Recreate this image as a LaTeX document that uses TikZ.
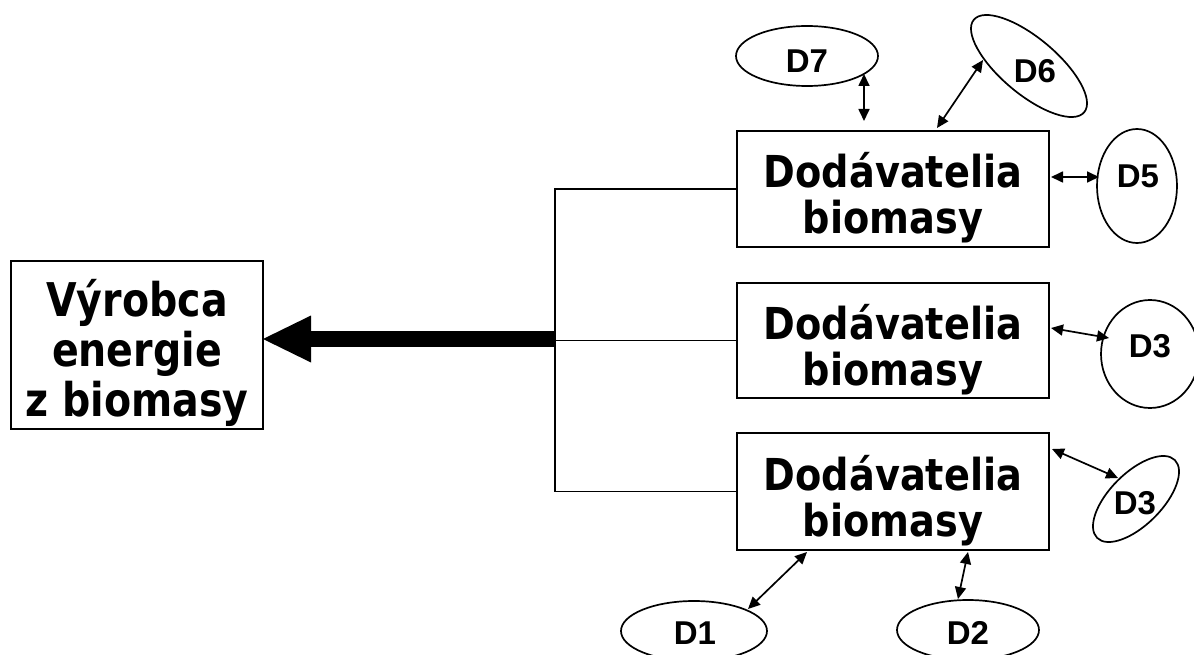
\documentclass[tikz,border=0pt]{standalone}
\usepackage{fontspec}
\usetikzlibrary{shapes.geometric,arrows.meta,calc}
\newfontfamily\leftfont{DejaVu Sans}[FakeStretch=0.85]
\newfontfamily\rightfont{DejaVu Sans}[FakeStretch=0.87]
\newfontfamily\dfont{Liberation Sans}
\begin{document}
\begin{tikzpicture}[x=1pt,y=-1pt,
  every node/.style={inner sep=0pt,outer sep=0pt},
  mainbox/.style={draw,line width=1.8pt,rectangle},
  maintext/.style={align=center,
    font=\leftfont\bfseries\fontsize{46.5}{50}\selectfont},
  supbox/.style={draw,line width=1.8pt,rectangle,minimum width=312pt},
  suptext/.style={align=center,
    font=\rightfont\bfseries\fontsize{44}{46}\selectfont},
  dell/.style={draw,line width=1.7pt,ellipse},
  dlab/.style={font=\dfont\bfseries\fontsize{33}{36}\selectfont},
  link/.style={line width=1.8pt},
  dblarrow/.style={line width=1.7pt,{Triangle[length=12pt,width=11pt]}-{Triangle[length=12pt,width=11pt]}},
  bigarrow/.style={line width=16pt,-{Triangle[length=48pt,width=47pt,line width=0pt]}}
]
\useasboundingbox (0,0) rectangle (1194,655);

% main box
\node[mainbox,minimum width=252pt,minimum height=168pt] (main) at (137,345) {};
\node[maintext] (maint) at ($(main.center)+(0,8)$) {V\'yrobca\\energie\\z biomasy};

% supplier boxes
\node[supbox,minimum height=116pt] (box1) at (893,189) {};
\node[supbox,minimum height=115pt] (box2) at (893,340.5) {};
\node[supbox,minimum height=117pt] (box3) at (893,491.5) {};
\node[suptext] (box1t) at ($(box1.center)+(0,9)$) {Dod\'avatelia\\biomasy};
\node[suptext] (box2t) at ($(box2.center)+(0,9)$) {Dod\'avatelia\\biomasy};
\node[suptext] (box3t) at ($(box3.center)+(0,9)$) {Dod\'avatelia\\biomasy};

% junction
\coordinate (jun) at (555,339);

\draw[link] (box1.west) -| (jun) |- (box3.west);
\draw[link] (box2.west) -- (box2.west -| jun);
\draw[bigarrow] (jun) -- (main.east |- jun);

% ellipses
\node[dell,minimum width=142pt,minimum height=60pt] (d7) at (807,56) {};
\node[dlab] (d7t) at (807,61) {D7};
\node[dell,rotate=-40,minimum width=144pt,minimum height=56pt] (d6) at (1029,66) {};
\node[dlab] (d6t) at (1035,71) {D6};
\node[dell,minimum width=80pt,minimum height=114pt] (d5) at (1137,186) {};
\node[dlab] (d5t) at (1138,176) {D5};
\node[dell,minimum width=98pt,minimum height=108pt] (d3m) at (1150,354) {};
\node[dlab] (d3mt) at (1150,346) {D3};
\node[dell,rotate=45,minimum width=110pt,minimum height=52pt] (d3l) at (1136,499) {};
\node[dlab] (d3lt) at (1135,503) {D3};
\node[dell,minimum width=146pt,minimum height=60pt] (d1) at (694,631) {};
\node[dlab] (d1t) at (695,633) {D1};
\node[dell,minimum width=142pt,minimum height=60pt] (d2) at (968,630) {};
\node[dlab] (d2t) at (968,633) {D2};

% double arrows
\draw[dblarrow] ($(d7.center)+(57,18)$) -- ($(box1.north west)+(127,-10)$);
\draw[dblarrow] ($(d6.center)+(-46,-6)$) -- ($(box1.north west)+(200,-3)$);
\draw[dblarrow] ($(box1.east)+(2,-12)$) -- ($(d5.center)+(-38,-9)$);
\draw[dblarrow] ($(box2.north east)+(2,45)$) -- ($(d3m.center)+(-41,-16)$);
\draw[dblarrow] ($(box3.north east)+(3,16)$) -- ($(d3l.center)+(-18,-21)$);
\draw[dblarrow] ($(box3.south west)+(70,2)$) -- ($(d1.center)+(54,-22)$);
\draw[dblarrow] ($(box3.south west)+(231,2)$) -- ($(d2.center)+(-10,-31)$);
\end{tikzpicture}
\end{document}
